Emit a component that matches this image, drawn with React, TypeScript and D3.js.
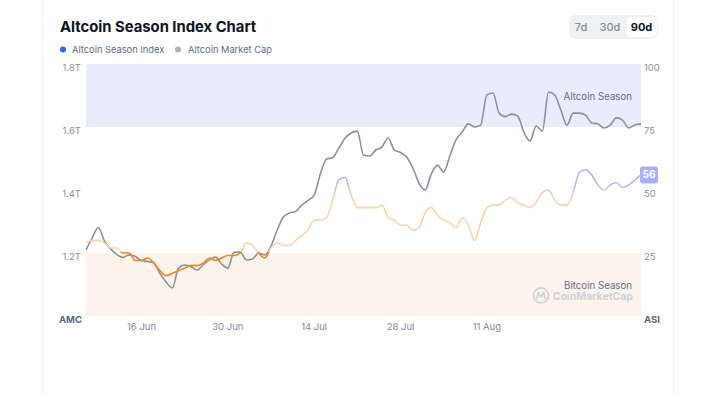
import React from 'react';
import * as d3 from 'd3';

const startDate = new Date(2025, 5, 7);
const endDate = new Date(2025, 8, 5);
const days = d3.timeDay.range(startDate, d3.timeDay.offset(endDate, 1));

// Altcoin market cap, in trillions USD (one value per day)
const marketCap = [
  1.210, 1.248, 1.281, 1.238, 1.213, 1.195, 1.186, 1.194, 1.189, 1.176,
  1.173, 1.168, 1.135, 1.108, 1.089, 1.152, 1.162, 1.157, 1.146, 1.163,
  1.178, 1.187, 1.165, 1.152, 1.202, 1.203, 1.178, 1.181, 1.200, 1.194,
  1.222, 1.273, 1.314, 1.327, 1.332, 1.352, 1.367, 1.384, 1.451, 1.498,
  1.503, 1.533, 1.564, 1.581, 1.587, 1.511, 1.508, 1.527, 1.537, 1.565,
  1.527, 1.519, 1.505, 1.470, 1.422, 1.400, 1.451, 1.479, 1.457, 1.508,
  1.559, 1.584, 1.610, 1.600, 1.606, 1.702, 1.708, 1.644, 1.633, 1.641,
  1.635, 1.584, 1.556, 1.603, 1.587, 1.711, 1.702, 1.654, 1.606, 1.644,
  1.644, 1.638, 1.613, 1.610, 1.597, 1.606, 1.629, 1.622, 1.597, 1.606,
  1.610,
];

// Altcoin season index, 0-100 (one value per day)
const seasonIndex = [
  29, 30, 30, 29, 27, 27, 25, 25, 22, 22,
  23, 21, 18, 16, 17, 18, 19, 20, 20, 21,
  23, 22, 23, 24, 24, 25, 29, 28, 25, 23,
  27, 29, 28, 28, 30, 32, 34, 38, 38, 39,
  46, 54, 55, 48, 43, 43, 43, 43, 44, 39,
  38, 36, 36, 34, 35, 41, 43, 40, 38, 37,
  35, 39, 36, 30, 37, 43, 44, 44, 46, 47,
  45, 44, 43, 45, 49, 50, 46, 44, 44, 49,
  57, 58, 56, 52, 50, 52, 53, 51, 52, 54,
  56,
];

const xTickDates = [
  new Date(2025, 5, 16),
  new Date(2025, 5, 30),
  new Date(2025, 6, 14),
  new Date(2025, 6, 28),
  new Date(2025, 7, 11),
];
const capTicks = [1.2, 1.4, 1.6, 1.8];
const indexTicks = [25, 50, 75, 100];
const ranges = ['7d', '30d', '90d'];

const font = 'Inter, "Noto Sans", sans-serif';

export default function App() {
  const x = d3.scaleTime().domain([startDate, endDate]).range([86, 641]);
  const yCap = d3.scaleLinear().domain([1.0, 1.8]).range([316, 64]);
  const yIdx = d3.scaleLinear().domain([0, 100]).range([316, 64]);

  const capLine = d3.line<number>()
    .x((_, i) => x(days[i]))
    .y(d => yCap(d))
    .curve(d3.curveMonotoneX);
  const idxLine = d3.line<number>()
    .x((_, i) => x(days[i]))
    .y(d => yIdx(d))
    .curve(d3.curveMonotoneX);

  const fmt = d3.timeFormat('%-d %b');
  const last = seasonIndex[seasonIndex.length - 1];

  return (
    <div style={{ position: 'fixed', left: 0, top: 0, background: '#fff' }}>
      <svg width={710} height={395} style={{ display: 'block', fontFamily: font }}>
        <defs>
          <linearGradient id="asiGrad" gradientUnits="userSpaceOnUse"
            x1={0} x2={0} y1={yIdx(0)} y2={yIdx(100)}>
            <stop offset={0} stopColor="#F5861F" />
            <stop offset={0.253} stopColor="#F5861F" />
            <stop offset={0.253} stopColor="#F9D3A9" />
            <stop offset={0.47} stopColor="#F9D3A9" />
            <stop offset={0.53} stopColor="#B5B8F6" />
            <stop offset={1} stopColor="#B5B8F6" />
          </linearGradient>
        </defs>

        <rect x={42.5} y={-20} width={631} height={440} rx={12} fill="#fff" stroke="#EEF0F3" />

        <text x={60} y={32} fontSize={14.8} fontWeight={700} fill="#0D1421">Altcoin Season Index Chart</text>

        {/* legend */}
        <circle cx={63} cy={49.5} r={3} fill="#3861FB" />
        <text x={72} y={49.5} dy="0.35em" fontSize={9.3} fill="#616E85">Altcoin Season Index</text>
        <circle cx={178} cy={49.5} r={3} fill="#A6B0C3" />
        <text x={188} y={49.5} dy="0.35em" fontSize={9.3} fill="#616E85">Altcoin Market Cap</text>

        {/* range buttons */}
        <rect x={569} y={15} width={89} height={24} rx={6} fill="#EFF2F5" />
        <rect x={626} y={17} width={31} height={20} rx={5} fill="#fff" />
        {ranges.map((r, i) => (
          <text key={r} x={[581, 610, 641.5][i]} y={27.5} dy="0.35em" textAnchor="middle"
            fontSize={11} fontWeight={i === 2 ? 700 : 500} fill={i === 2 ? '#0D1421' : '#808A9D'}>{r}</text>
        ))}

        {/* season bands */}
        <rect x={x.range()[0]} y={yIdx(100)} width={x.range()[1] - x.range()[0]}
          height={yIdx(75) - yIdx(100)} fill="#EAECFD" />
        <rect x={x.range()[0]} y={yIdx(25)} width={x.range()[1] - x.range()[0]}
          height={yIdx(0) - yIdx(25)} fill="#FEF3EA" />

        <text x={632} y={97} dy="0.35em" textAnchor="end" fontSize={9.7} fill="#616E85">Altcoin Season</text>
        <text x={632} y={285.5} dy="0.35em" textAnchor="end" fontSize={9.7} fill="#616E85">Bitcoin Season</text>

        {/* watermark */}
        <g>
          <circle cx={541} cy={295.5} r={7.5} fill="none" stroke="#CDD2DA" strokeWidth={1.6} />
          <path d="M536.5,299 L538.5,292.5 L541,297.5 L543.5,292.5 L545.5,299" fill="none"
            stroke="#CDD2DA" strokeWidth={1.6} strokeLinejoin="round" strokeLinecap="round" />
          <text x={633} y={296} dy="0.35em" textAnchor="end" fontSize={10.5} fontWeight={700}
            fill="#CDD2DA">CoinMarketCap</text>
        </g>

        {/* lines */}
        <path d={capLine(marketCap) ?? ''} fill="none" stroke="#8A919E" strokeWidth={1.6} />
        <path d={idxLine(seasonIndex) ?? ''} fill="none" stroke="url(#asiGrad)" strokeWidth={1.6} />

        {/* left axis */}
        {capTicks.map(t => (
          <text key={t} x={81} y={yCap(t) + 4} dy="0.35em" textAnchor="end" fontSize={9.5}
            fill="#8A91A0">{`${t.toFixed(1)}T`}</text>
        ))}
        <text x={82} y={320} dy="0.35em" textAnchor="end" fontSize={9.5} fontWeight={700} fill="#58667E">AMC</text>

        {/* right axis */}
        {indexTicks.map(t => (
          <text key={t} x={644} y={yIdx(t) + 4} dy="0.35em" fontSize={9.5} fill="#8A91A0">{t}</text>
        ))}
        <text x={644} y={320} dy="0.35em" fontSize={9.5} fontWeight={700} fill="#58667E">ASI</text>

        {/* x axis */}
        {xTickDates.map(d => (
          <text key={+d} x={x(d)} y={327} dy="0.35em" textAnchor="middle" fontSize={9.5}
            fill="#808A9D">{fmt(d)}</text>
        ))}

        {/* last value badge */}
        <rect x={640} y={yIdx(last) - 8.5} width={18} height={17} rx={3} fill="#A9AEF6" />
        <text x={649} y={yIdx(last)} dy="0.35em" textAnchor="middle" fontSize={10} fontWeight={700}
          fill="#fff">{last}</text>
      </svg>
    </div>
  );
}
